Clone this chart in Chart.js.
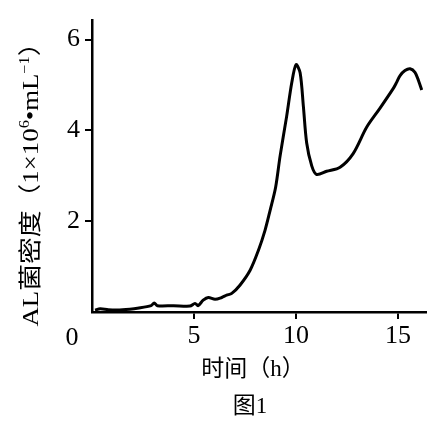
<!DOCTYPE html>
<html>
<head>
<meta charset="utf-8">
<script src="https://cdn.jsdelivr.net/npm/chart.js@4.4.0/dist/chart.umd.min.js"></script>
<style>
  html, body { margin: 0; padding: 0; background: #fff; }
  #wrap { width: 447px; height: 424px; position: relative; }
</style>
</head>
<body>
<div id="wrap"><canvas id="al-density-chart"></canvas></div>
<script>
// time (h) and AL density (1x10^6 / mL)
var hours = [0.15, 0.4, 0.8, 1.5, 2.3, 2.9, 3.05, 3.2, 4.0, 4.8, 5.05, 5.2, 5.45, 5.7, 6.03, 6.36, 6.6, 6.85,
    7.25, 7.75, 8.15, 8.48, 8.73, 9.0, 9.22, 9.54, 9.79, 10.0, 10.2, 10.36, 10.52, 10.77, 11.01, 11.5,
    12.16, 12.8, 13.46, 14.1, 14.76, 14.93, 15.1, 15.34, 15.59, 15.83, 16.0, 16.16];
var density = [0.04, 0.07, 0.05, 0.05, 0.09, 0.14, 0.2, 0.14, 0.14, 0.13, 0.19, 0.14, 0.26, 0.32, 0.28, 0.32, 0.37, 0.41,
    0.59, 0.92, 1.35, 1.8, 2.24, 2.75, 3.44, 4.31, 5.05, 5.45, 5.27, 4.53, 3.73, 3.22, 3.03, 3.1,
    3.19, 3.49, 4.07, 4.48, 4.92, 5.06, 5.21, 5.32, 5.36, 5.28, 5.1, 4.89];
var xTicks = [5, 10, 15];
var yTicks = [2, 4, 6];

var serif = '"Liberation Serif", "Noto Sans CJK SC", serif';

// draws the origin "0", the axis titles and the figure caption
var labelsPlugin = {
    id: 'labels',
    afterDraw: function(chart) {
        var ctx = chart.ctx;
        ctx.save();
        ctx.fillStyle = '#000';
        ctx.textAlign = 'center';
        ctx.textBaseline = 'middle';
        ctx.font = '26px ' + serif;
        ctx.fillText('0', 72, 338);

        ctx.font = '23px ' + serif;
        ctx.fillText('时间（h）', 253, 370);
        ctx.fillText('图1', 250, 407);

        // y title, rotated, with superscripts, stretched to the span of the original
        var parts = [
            { t: 'AL菌密度（1×10', sup: false },
            { t: '6', sup: true },
            { t: '•mL', sup: false },
            { t: '−1', sup: true },
            { t: '）', sup: false }
        ];
        var total = 0;
        parts.forEach(function(p) {
            ctx.font = (p.sup ? '14px ' : '23px ') + serif;
            p.w = ctx.measureText(p.t).width;
            total += p.w;
        });
        ctx.translate(32, 178);
        ctx.rotate(-Math.PI / 2);
        ctx.scale(297 / total, 1);
        ctx.textAlign = 'left';
        var x = -total / 2;
        parts.forEach(function(p) {
            ctx.font = (p.sup ? '14px ' : '23px ') + serif;
            ctx.fillText(p.t, x, p.sup ? -7 : 0);
            x += p.w;
        });
        ctx.restore();
    }
};

var chartElement = document.getElementById('al-density-chart');
var context = chartElement.getContext('2d');
var chart = new Chart(context, {
    type: 'line',
    data: {
        datasets: [{
            data: hours.map(function(h, i) { return { x: h, y: density[i] }; }),
            borderColor: '#000',
            borderWidth: 3,
            pointRadius: 0,
            tension: 0.3,
            fill: false
        }]
    },
    options: {
        responsive: true,
        maintainAspectRatio: false,
        animation: false,
        layout: { padding: { top: 20, right: 21, left: 0, bottom: 0 } },
        plugins: {
            legend: { display: false },
            tooltip: { enabled: false }
        },
        scales: {
            x: {
                type: 'linear',
                min: 0,
                max: 16.37,
                afterFit: function(scale) { scale.height = 112; },
                afterBuildTicks: function(scale) {
                    scale.ticks = xTicks.map(function(v) { return { value: v }; });
                },
                border: { display: true, color: '#000', width: 2.5 },
                grid: { drawOnChartArea: false, drawTicks: true, tickLength: 7, color: '#000', lineWidth: 2 },
                ticks: { color: '#000', padding: 2, maxRotation: 0, font: { family: serif, size: 26 } }
            },
            y: {
                min: 0,
                max: 6.42,
                afterFit: function(scale) { scale.width = 92; },
                afterBuildTicks: function(scale) {
                    scale.ticks = yTicks.map(function(v) { return { value: v }; });
                },
                border: { display: true, color: '#000', width: 2.5 },
                grid: { drawOnChartArea: false, drawTicks: true, tickLength: 7, color: '#000', lineWidth: 2 },
                ticks: { color: '#000', padding: 5, font: { family: serif, size: 26 } }
            }
        }
    },
    plugins: [labelsPlugin]
});
</script>
</body>
</html>
